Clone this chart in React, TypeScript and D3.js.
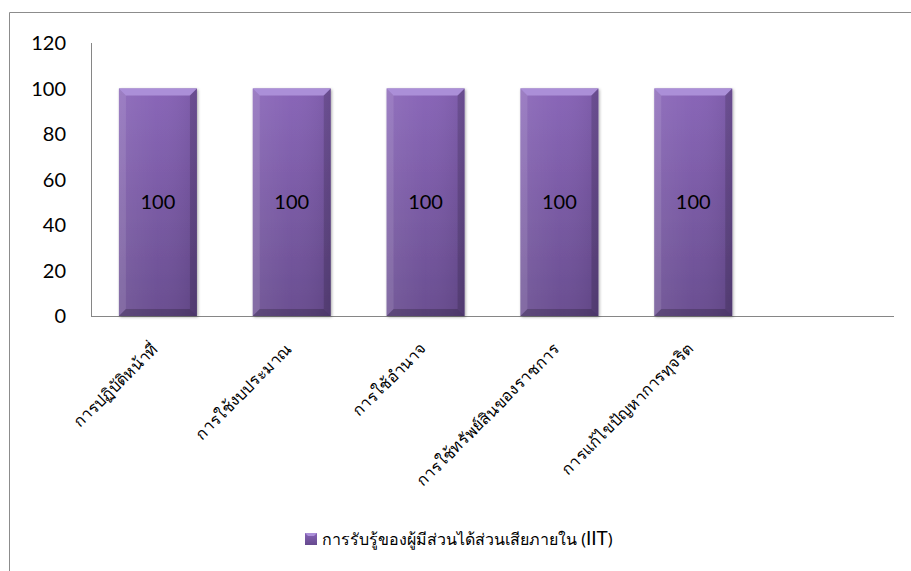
import * as d3 from "d3";
import { useEffect, useRef } from "react";

const categories = [
  "การปฏิบัติหน้าที่",
  "การใช้งบประมาณ",
  "การใช้อำนาจ",
  "การใช้ทรัพย์สินของราชการ",
  "การแก้ไขปัญหาการทุจริต",
  "",
];
const values: (number | null)[] = [100, 100, 100, 100, 100, null];
const yTicks = [0, 20, 40, 60, 80, 100, 120];
const seriesName = "การรับรู้ของผู้มีส่วนได้ส่วนเสียภายใน";

const W = 911;
const H = 571;

export default function App() {
  const ref = useRef<SVGSVGElement>(null);

  useEffect(() => {
    if (!ref.current) return;
    const svg = d3.select(ref.current);
    svg.selectAll("*").remove();

    const plot = { left: 91, right: 894, top: 43, bottom: 316 };

    const x = d3
      .scaleBand<string>()
      .domain(categories.map((c, i) => `${i}`))
      .range([plot.left, plot.right])
      .paddingInner(0.417)
      .paddingOuter(0.2085);

    const y = d3.scaleLinear().domain([0, 120]).range([plot.bottom, plot.top]);

    const defs = svg.append("defs");
    const grad = defs
      .append("linearGradient")
      .attr("id", "barFill")
      .attr("x1", 0)
      .attr("y1", 0)
      .attr("x2", 0)
      .attr("y2", 1);
    grad.append("stop").attr("offset", "0%").attr("stop-color", "#8662b6");
    grad.append("stop").attr("offset", "100%").attr("stop-color", "#664a8e");

    const side = defs
      .append("linearGradient")
      .attr("id", "barSide")
      .attr("x1", 0)
      .attr("y1", 0)
      .attr("x2", 1)
      .attr("y2", 0);
    side.append("stop").attr("offset", "0%").attr("stop-color", "#ffffff").attr("stop-opacity", 0.1);
    side.append("stop").attr("offset", "50%").attr("stop-color", "#ffffff").attr("stop-opacity", 0.03);
    side.append("stop").attr("offset", "100%").attr("stop-color", "#000000").attr("stop-opacity", 0.08);

    const shadow = defs
      .append("filter")
      .attr("id", "barShadow")
      .attr("x", "-20%")
      .attr("y", "-20%")
      .attr("width", "140%")
      .attr("height", "140%");
    shadow
      .append("feDropShadow")
      .attr("dx", 1)
      .attr("dy", 1)
      .attr("stdDeviation", 1.5)
      .attr("flood-color", "#000")
      .attr("flood-opacity", 0.35);

    // chart border
    svg
      .append("path")
      .attr("d", `M9.5,${H} V12.5 H${W}`)
      .attr("fill", "none")
      .attr("stroke", "#8c8c8c")
      .attr("stroke-width", 1);

    // axes
    svg
      .append("line")
      .attr("x1", plot.left + 0.5)
      .attr("x2", plot.left + 0.5)
      .attr("y1", plot.top)
      .attr("y2", plot.bottom)
      .attr("stroke", "#868686");
    svg
      .append("line")
      .attr("x1", plot.left)
      .attr("x2", plot.right)
      .attr("y1", plot.bottom + 0.5)
      .attr("y2", plot.bottom + 0.5)
      .attr("stroke", "#868686");

    svg
      .append("g")
      .selectAll("text")
      .data(yTicks)
      .join("text")
      .attr("x", 66)
      .attr("y", (d) => y(d))
      .attr("dy", "0.35em")
      .attr("text-anchor", "end")
      .attr("font-family", "Lato, 'Open Sans', sans-serif")
      .attr("font-size", 20)
      .attr("fill", "#000")
      .text((d) => d);

    const bw = x.bandwidth();
    const bars = svg
      .append("g")
      .selectAll("g")
      .data(values.map((v, i) => ({ v, i })).filter((d) => d.v != null))
      .join("g");

    bars
      .append("rect")
      .attr("x", (d) => x(`${d.i}`)!)
      .attr("y", (d) => y(d.v as number))
      .attr("width", bw)
      .attr("height", (d) => plot.bottom - y(d.v as number))
      .attr("fill", "url(#barFill)")
      .attr("filter", "url(#barShadow)");

    bars
      .append("rect")
      .attr("x", (d) => x(`${d.i}`)!)
      .attr("y", (d) => y(d.v as number))
      .attr("width", bw)
      .attr("height", (d) => plot.bottom - y(d.v as number))
      .attr("fill", "url(#barSide)");

    const bev = 7;
    // top bevel
    bars
      .append("path")
      .attr("d", (d) => {
        const x0 = x(`${d.i}`)!;
        const y0 = y(d.v as number);
        return `M${x0},${y0} H${x0 + bw} L${x0 + bw - bev},${y0 + bev} H${x0 + bev} Z`;
      })
      .attr("fill", "#ab8fd8");
    // left bevel
    bars
      .append("path")
      .attr("d", (d) => {
        const x0 = x(`${d.i}`)!;
        const y0 = y(d.v as number);
        return `M${x0},${y0} L${x0 + bev},${y0 + bev} V${plot.bottom - bev} L${x0},${plot.bottom} Z`;
      })
      .attr("fill", "#ffffff")
      .attr("opacity", 0.1);
    // right bevel
    bars
      .append("path")
      .attr("d", (d) => {
        const x0 = x(`${d.i}`)! + bw;
        const y0 = y(d.v as number);
        return `M${x0},${y0} L${x0 - bev},${y0 + bev} V${plot.bottom - bev} L${x0},${plot.bottom} Z`;
      })
      .attr("fill", "#000000")
      .attr("opacity", 0.15);
    // bottom bevel
    bars
      .append("path")
      .attr("d", (d) => {
        const x0 = x(`${d.i}`)!;
        return `M${x0},${plot.bottom} L${x0 + bev},${plot.bottom - bev} H${x0 + bw - bev} L${x0 + bw},${plot.bottom} Z`;
      })
      .attr("fill", "#000000")
      .attr("opacity", 0.2);

    bars
      .append("text")
      .attr("x", (d) => x(`${d.i}`)! + bw / 2)
      .attr("y", (d) => (y(d.v as number) + plot.bottom) / 2)
      .attr("dy", "0.35em")
      .attr("text-anchor", "middle")
      .attr("font-family", "Lato, 'Open Sans', sans-serif")
      .attr("font-size", 20)
      .attr("fill", "#000")
      .text((d) => d.v as number);

    // category labels, rotated
    svg
      .append("g")
      .selectAll("text")
      .data(categories.map((c, i) => ({ c, i })))
      .join("text")
      .attr("transform", (d) => {
        const cx = x(`${d.i}`)! + bw / 2 + 1;
        const cy = plot.bottom + 34;
        return `translate(${cx},${cy}) rotate(-45)`;
      })
      .attr("text-anchor", "end")
      .attr("font-family", "'Noto Sans', sans-serif")
      .attr("font-size", 16)
      .attr("fill", "#000")
      .text((d) => d.c);

    // legend
    const lg = svg.append("g").attr("transform", "translate(305,533)");
    lg.append("rect")
      .attr("width", 12)
      .attr("height", 12)
      .attr("fill", "url(#barFill)");
    lg.append("path")
      .attr("d", "M0,0 H12 L9,3 H3 Z")
      .attr("fill", "#ab8fd8");
    const lt = lg
      .append("text")
      .attr("x", 17)
      .attr("y", 6)
      .attr("dy", "0.35em")
      .attr("font-size", 16)
      .attr("fill", "#000");
    lt.append("tspan").attr("font-family", "'Noto Sans', sans-serif").text(`${seriesName} (`);
    lt.append("tspan").attr("font-family", "Lato, 'Open Sans', sans-serif").attr("font-size", 19).text("IIT");
    lt.append("tspan").attr("font-family", "'Noto Sans', sans-serif").text(")");
  }, []);

  return (
    <svg
      ref={ref}
      width={W}
      height={H}
      style={{ position: "absolute", left: 0, top: 0, background: "#fff" }}
    />
  );
}
